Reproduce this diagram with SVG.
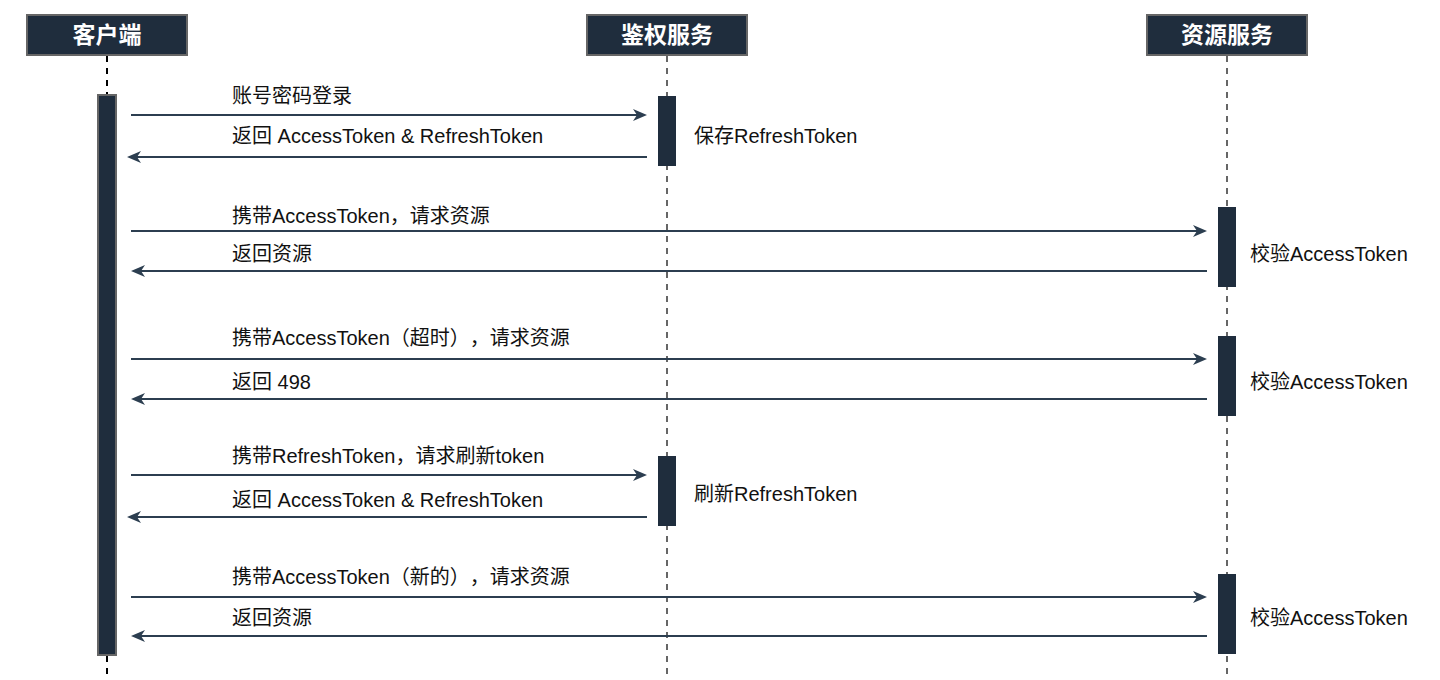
<svg xmlns="http://www.w3.org/2000/svg" width="1440" height="680" viewBox="0 0 1440 680">
<defs>
<style>
.hdr{fill:#1f2d3d;stroke:#666;stroke-width:2}
.htxt{fill:#fff;font-family:"Liberation Sans","Noto Sans CJK SC",sans-serif;font-size:23px;font-weight:bold;text-anchor:middle}
.life{stroke:#666;stroke-width:2;stroke-dasharray:6 6;fill:none}
.act{fill:#1f2d3d}
.msg{stroke:#2c3e50;stroke-width:2;fill:none}
.lbl{fill:#111;font-family:"Liberation Sans","Noto Sans CJK SC",sans-serif;font-size:20px;text-spacing-trim:space-all}
</style>
<marker id="ah" viewBox="0 0 14 12" refX="10" refY="6" markerWidth="14" markerHeight="12" markerUnits="userSpaceOnUse" orient="auto">
<path d="M0,0 L14,6 L0,12 L4,6 z" fill="#2c3e50"/>
</marker>
</defs>
<rect width="1440" height="680" fill="#fff"/>
<g id="lifelines">
<line class="life" x1="107" y1="56" x2="107" y2="680" style="stroke:#000"/>
<line class="life" x1="667" y1="56" x2="667" y2="680"/>
<line class="life" x1="1227" y1="56" x2="1227" y2="680"/>
</g>
<g id="client">
<rect class="hdr" x="27" y="15" width="160" height="40"/>
<text class="htxt" x="107" y="43">客户端</text>
<rect class="act" x="98" y="95" width="18" height="560" stroke="#666" stroke-width="2"/>
</g>
<g id="auth">
<rect class="hdr" x="587" y="15" width="160" height="40"/>
<text class="htxt" x="667" y="43">鉴权服务</text>
<rect class="act" x="658" y="96" width="18" height="70"/>
<rect class="act" x="658" y="456" width="18" height="70"/>
<text class="lbl" x="694" y="143">保存RefreshToken</text>
<text class="lbl" x="694" y="501">刷新RefreshToken</text>
</g>
<g id="resource">
<rect class="hdr" x="1147" y="15" width="160" height="40"/>
<text class="htxt" x="1227" y="43">资源服务</text>
<rect class="act" x="1218" y="207" width="18" height="80"/>
<rect class="act" x="1218" y="336" width="18" height="80"/>
<rect class="act" x="1218" y="574" width="18" height="80"/>
<text class="lbl" x="1250" y="261">校验AccessToken</text>
<text class="lbl" x="1250" y="389">校验AccessToken</text>
<text class="lbl" x="1250" y="625">校验AccessToken</text>
</g>
<g id="connectors">
<line class="msg" x1="131" y1="115" x2="643" y2="115" marker-end="url(#ah)"/>
<line class="msg" x1="647" y1="157" x2="131" y2="157" marker-end="url(#ah)"/>
<line class="msg" x1="131" y1="231" x2="1203" y2="231" marker-end="url(#ah)"/>
<line class="msg" x1="1207" y1="271" x2="135" y2="271" marker-end="url(#ah)"/>
<line class="msg" x1="131" y1="359" x2="1203" y2="359" marker-end="url(#ah)"/>
<line class="msg" x1="1207" y1="399" x2="135" y2="399" marker-end="url(#ah)"/>
<line class="msg" x1="131" y1="475" x2="643" y2="475" marker-end="url(#ah)"/>
<line class="msg" x1="647" y1="517" x2="131" y2="517" marker-end="url(#ah)"/>
<line class="msg" x1="131" y1="597" x2="1203" y2="597" marker-end="url(#ah)"/>
<line class="msg" x1="1207" y1="636" x2="135" y2="636" marker-end="url(#ah)"/>
<text class="lbl" x="232" y="103">账号密码登录</text>
<text class="lbl" x="232" y="143">返回 AccessToken &amp; RefreshToken</text>
<text class="lbl" x="232" y="223">携带AccessToken，请求资源</text>
<text class="lbl" x="232" y="261">返回资源</text>
<text class="lbl" x="232" y="345">携带AccessToken（超时），请求资源</text>
<text class="lbl" x="232" y="389">返回 498</text>
<text class="lbl" x="232" y="463">携带RefreshToken，请求刷新token</text>
<text class="lbl" x="232" y="507">返回 AccessToken &amp; RefreshToken</text>
<text class="lbl" x="232" y="584">携带AccessToken（新的），请求资源</text>
<text class="lbl" x="232" y="625">返回资源</text>
</g>
</svg>
